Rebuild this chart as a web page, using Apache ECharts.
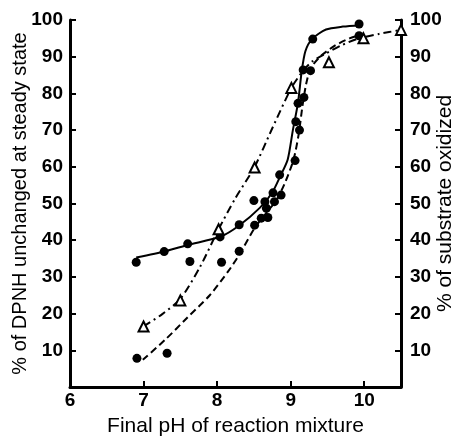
<!DOCTYPE html>
<html>
<head>
<meta charset="utf-8">
<script src="https://cdn.jsdelivr.net/npm/echarts@6/dist/echarts.min.js"></script>
<style>html,body{margin:0;padding:0;background:#fff;}#c{width:457px;height:437px;}</style>
</head>
<body>
<div id="c"></div>
<script>
// Filled circles, solid curve (% of DPNH unchanged at steady state)
const dpnhPoints = [[6.90,34.0],[7.28,36.9],[7.60,39.0],[8.04,40.9],[8.30,44.2],[8.50,50.8],[8.65,50.5],[8.76,52.9],[8.85,57.8],[9.07,72.3],[9.10,77.3],[9.17,86.4],[9.30,94.8],[9.93,98.9]];
const dpnhCurve = [[6.90,35.3],[7.30,37.0],[7.60,38.7],[8.05,41.0],[8.30,44.0],[8.58,48.8],[8.75,53.0],[8.86,57.5],[8.96,62.0],[9.03,70.0],[9.10,77.5],[9.15,86.0],[9.20,91.5],[9.29,94.8],[9.48,97.4],[9.71,98.2],[9.95,98.6]];
// Filled circles, dashed curve
const dashPoints = [[6.91,7.8],[7.32,9.2],[7.63,34.2],[8.06,34.0],[8.30,37.0],[8.51,44.1],[8.60,46.0],[8.69,46.2],[8.67,48.7],[8.78,50.5],[8.87,52.3],[9.06,61.7],[9.12,70.0],[9.18,78.9],[9.27,86.2],[9.93,95.7]];
const dashCurve = [[6.99,7.4],[7.30,13.0],[7.59,18.8],[7.90,25.0],[8.15,31.5],[8.30,36.0],[8.51,43.3],[8.70,48.2],[8.81,51.0],[8.93,56.0],[9.04,62.0],[9.11,69.0],[9.16,76.5],[9.21,82.5],[9.27,86.8],[9.40,90.0],[9.60,93.0],[9.80,95.0],[9.95,96.0]];
// Open triangles, dash-dot curve (% of substrate oxidized)
const triPoints = [[7.00,16.5],[7.50,23.6],[8.02,43.0],[8.51,59.8],[9.01,81.5],[9.52,88.5],[9.99,95.0],[10.50,97.3]];
const triCurve = [[7.00,16.5],[7.25,19.8],[7.50,24.0],[7.77,32.8],[8.02,43.0],[8.25,51.5],[8.51,60.0],[8.75,70.5],[9.01,81.5],[9.17,86.2],[9.30,88.8],[9.48,90.9],[9.70,93.2],[9.93,95.0],[10.20,96.2],[10.50,97.3]];
const xTicks = [6,7,8,9,10];
const yTicks = [10,20,30,40,50,60,70,80,90,100];

const FONT = 'Liberation Sans';
const axisLineStyle = {color:'#000', width:3};
const tickStyle = {color:'#000', width:2};
const yAxisBase = (pos) => ({
  type:'value', min:0, max:100, interval:10, position:pos,
  axisLine:{show:true, lineStyle:axisLineStyle},
  axisTick:{show:true, inside:true, length:6, lineStyle:tickStyle},
  splitLine:{show:false},
  axisLabel:{color:'#000', fontSize:19, fontWeight:'bold', fontFamily:FONT, margin:pos==='left'?7:9,
    formatter:v=> yTicks.includes(v)?String(v):''},
  nameLocation:'middle', nameRotate:90, nameMoveOverlap:false,
  nameTextStyle:{color:'#000', fontSize:21, fontFamily:FONT}
});
const chart = echarts.init(document.getElementById('c'));
chart.setOption({
  backgroundColor:'#fff',
  animation:false,
  grid:{left:70, right:56, top:20, bottom:50, containLabel:false, outerBoundsMode:'none'},
  xAxis:{
    type:'value', min:6, max:10.5, interval:1,
    axisLine:{lineStyle:axisLineStyle},
    axisTick:{inside:true, length:6, lineStyle:tickStyle},
    splitLine:{show:false},
    axisLabel:{color:'#000', fontSize:19, fontWeight:'bold', fontFamily:FONT, margin:4, showMaxLabel:false,
      formatter:v=> xTicks.includes(v)?String(v):''},
    name:'Final pH of reaction mixture', nameLocation:'middle', nameGap:29, nameMoveOverlap:false,
    nameTextStyle:{color:'#000', fontSize:21, fontFamily:FONT}
  },
  yAxis:[
    Object.assign(yAxisBase('left'), {name:'% of DPNH unchanged at steady state', nameGap:40,
      nameTextStyle:{color:'#000', fontSize:20, fontFamily:FONT}}),
    Object.assign(yAxisBase('right'), {name:'% of substrate oxidized', nameGap:34})
  ],
  series:[
    {type:'line', data:dpnhCurve, smooth:0.25, showSymbol:false, lineStyle:{color:'#000', width:2}, z:2},
    {type:'line', data:dashCurve, smooth:0.25, showSymbol:false, lineStyle:{color:'#000', width:2, type:[7,4]}, z:2},
    {type:'line', data:triCurve, smooth:0.25, showSymbol:false, lineStyle:{color:'#000', width:2, type:[8,4,2,4]}, z:2},
    {type:'scatter', data:dpnhPoints, symbol:'circle', symbolSize:9, itemStyle:{color:'#000', opacity:1}, z:3},
    {type:'scatter', data:dashPoints, symbol:'circle', symbolSize:9, itemStyle:{color:'#000', opacity:1}, z:3},
    {type:'scatter', data:triPoints, symbol:'triangle', symbolSize:10, itemStyle:{color:'#fff', borderColor:'#000', borderWidth:2, opacity:1}, z:4}
  ]
});
</script>
</body>
</html>
